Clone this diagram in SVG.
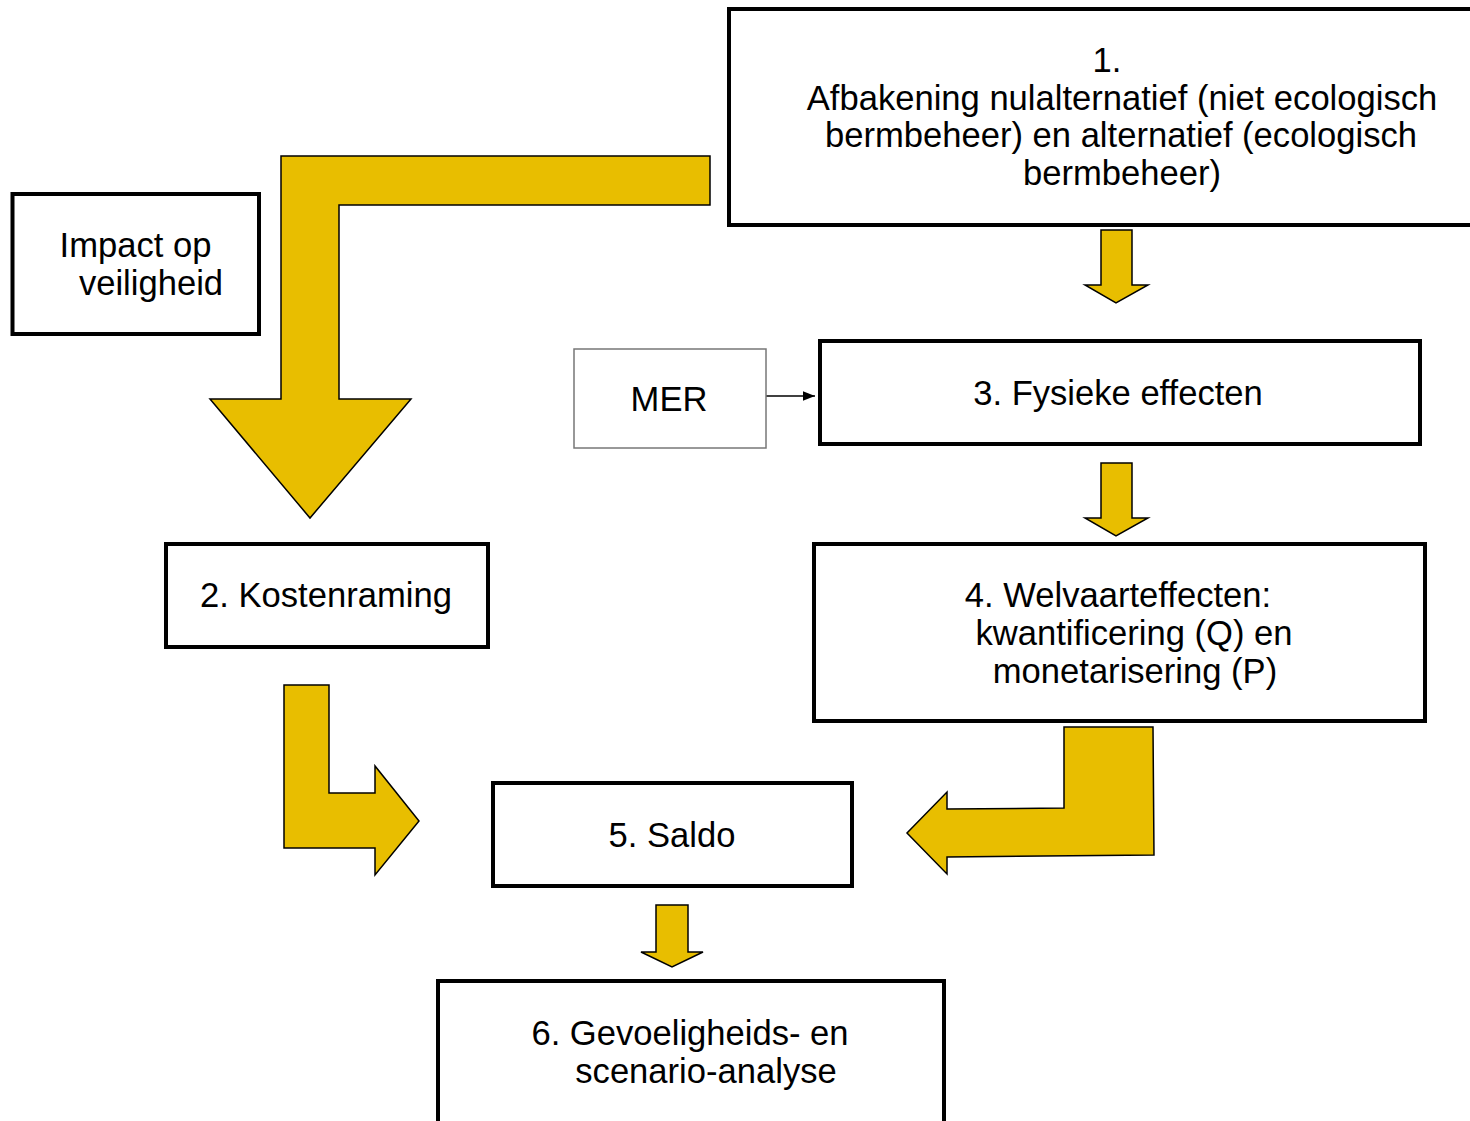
<svg xmlns="http://www.w3.org/2000/svg" width="1470" height="1121" viewBox="0 0 1470 1121">
<style>
.box{fill:#fff;stroke:#000;stroke-width:4}
.thin{fill:#fff;stroke:#777;stroke-width:1.5}
.t{font-family:"Liberation Sans",Arial,sans-serif;font-size:34.6px;fill:#000;text-anchor:middle}
.ya{fill:#E8BE00;stroke:#000;stroke-width:1.5;stroke-linejoin:miter}
</style>
<defs>
<marker id="ah" viewBox="0 0 10 10" refX="10" refY="5" markerWidth="12" markerHeight="12" markerUnits="userSpaceOnUse" orient="auto">
<path d="M0,1 L10,5 L0,9 Z" fill="#000"/>
</marker>
</defs>
<g id="connectors">
<path class="ya" d="M710,156 L281,156 L281,399 L210,399 L310,518 L411,399 L339,399 L339,205 L710,205 Z"/>
<path class="ya" d="M1101,230 L1132,230 L1132,285 L1148,285 L1116,303 L1085,285 L1101,285 Z"/>
<path class="ya" d="M1101,463 L1132,463 L1132,518 L1148,518 L1116,536 L1085,518 L1101,518 Z"/>
<path class="ya" d="M656,905 L688,905 L688,952 L703,952 L672,967 L641,952 L656,952 Z"/>
<path class="ya" d="M284,685 L329,685 L329,793 L375,793 L375,766 L419,821 L375,875 L375,848 L284,848 Z"/>
<path class="ya" d="M1064,727 L1153,727 L1154,855 L947,857 L947,874 L907,833 L947,792 L947,809 L1064,808 Z"/>
<line x1="766" y1="396" x2="815" y2="396" stroke="#000" stroke-width="1.5" marker-end="url(#ah)"/>
</g>
<g id="n1">
<rect class="box" x="729" y="9" width="800" height="216"/>
<text class="t" x="1107" y="72">1.</text>
<text class="t" x="1122" y="110">Afbakening nulalternatief (niet ecologisch</text>
<text class="t" x="1121" y="147">bermbeheer) en alternatief (ecologisch</text>
<text class="t" x="1122" y="185">bermbeheer)</text>
</g>
<g id="impact">
<rect class="box" x="12.5" y="194" width="246.5" height="140"/>
<text class="t" x="135.5" y="257">Impact op</text>
<text class="t" x="151" y="295">veiligheid</text>
</g>
<g id="mer">
<rect class="thin" x="574" y="349" width="192" height="99"/>
<text class="t" x="669" y="411">MER</text>
</g>
<g id="n3">
<rect class="box" x="820" y="341" width="600" height="103"/>
<text class="t" x="1118" y="405">3. Fysieke effecten</text>
</g>
<g id="n2">
<rect class="box" x="166" y="544" width="322" height="103"/>
<text class="t" x="326" y="607">2. Kostenraming</text>
</g>
<g id="n4">
<rect class="box" x="814" y="544" width="611" height="177"/>
<text class="t" x="1118" y="607">4. Welvaarteffecten:</text>
<text class="t" x="1134" y="645">kwantificering (Q) en</text>
<text class="t" x="1135" y="683">monetarisering (P)</text>
</g>
<g id="n5">
<rect class="box" x="493" y="783" width="359" height="103"/>
<text class="t" x="672" y="847">5. Saldo</text>
</g>
<g id="n6">
<rect class="box" x="438" y="981" width="506" height="160"/>
<text class="t" x="690" y="1045">6. Gevoeligheids- en</text>
<text class="t" x="706" y="1083">scenario-analyse</text>
</g>
</svg>
